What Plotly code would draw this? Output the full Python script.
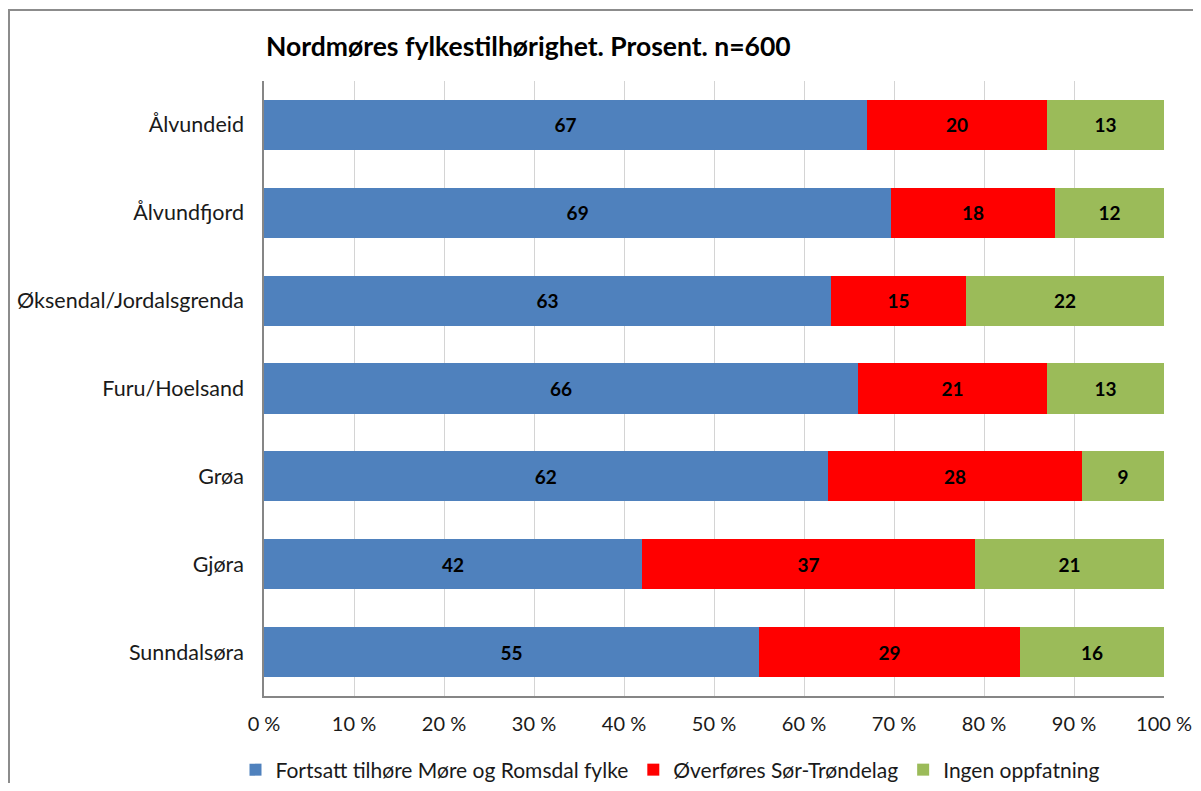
import plotly.graph_objects as go

categories = ["Ålvundeid", "Ålvundfjord", "Øksendal/Jordalsgrenda", "Furu/Hoelsand", "Grøa", "Gjøra", "Sunndalsøra"]
fortsatt = [67, 69, 63, 66, 62, 42, 55]
overfores = [20, 18, 15, 21, 28, 37, 29]
ingen = [13, 12, 22, 13, 9, 21, 16]
series_names = ["Fortsatt tilhøre Møre og Romsdal fylke", "Øverføres Sør-Trøndelag", "Ingen oppfatning"]
colors = ["#4f81bd", "#ff0000", "#9bbb59"]
tick_vals = [0, 10, 20, 30, 40, 50, 60, 70, 80, 90, 100]
tick_text = [f"{v} %" for v in tick_vals]

FONT = "Lato, 'Open Sans', sans-serif"

fig = go.Figure()
for name, vals, col in zip(series_names, [fortsatt, overfores, ingen], colors):
    fig.add_trace(go.Bar(
        y=categories, x=vals, name=name, orientation="h",
        marker=dict(color=col, line=dict(width=0)),
        text=[str(v) for v in vals], textposition="inside",
        insidetextanchor="middle", textangle=0, constraintext="none",
        textfont=dict(family=FONT, size=19, color="black", weight="bold"),
        hoverinfo="x+y+name",
    ))

OFF = 8  # page body margin
# target plot area in page pixels
PX0, PX1, PY0, PY1 = 264, 1164, 81, 696
W, H = 1201 - 2 * OFF, 791 - 2 * OFF
L = PX0 - OFF
R = OFF + W - PX1
T = PY0 - OFF
B = OFF + H - PY1
pw, ph = PX1 - PX0, PY1 - PY0


def px_x(p):
    return (p - PX0) / pw


def px_y(p):
    return (PY1 - p) / ph


fig.update_layout(
    barmode="stack", barnorm="percent", bargap=0.43,
    width=W, height=H,
    margin=dict(l=L, r=R, t=T, b=B, pad=0, autoexpand=False),
    paper_bgcolor="white", plot_bgcolor="white",
    font=dict(family=FONT, size=20, color="#1a1a1a"),
    title=dict(text="<b>Nordmøres fylkestilhørighet. Prosent. n=600</b>",
               x=(266 - OFF) / W, xref="container", xanchor="left",
               y=1 - (47 - OFF) / H, yref="container", yanchor="middle",
               font=dict(family=FONT, size=26.5, color="black")),
    legend=dict(orientation="h", x=px_x(670), xanchor="center",
                y=px_y(770), yanchor="middle",
                font=dict(family=FONT, size=21, color="#1a1a1a"),
                traceorder="normal", itemwidth=30, tracegroupgap=0),
    xaxis=dict(range=[0, 100], tickvals=tick_vals, ticktext=tick_text,
               showgrid=True, gridcolor="#d4d4d4", gridwidth=1,
               showline=True, linecolor="#868686", linewidth=1.5,
               ticks="", ticklabelstandoff=9, zeroline=False, automargin=False,
               tickfont=dict(family=FONT, size=20, color="#1a1a1a"), fixedrange=True),
    yaxis=dict(categoryorder="array", categoryarray=categories, autorange="reversed",
               showline=True, linecolor="#868686", linewidth=1.5, automargin=False,
               ticks="", ticklabelstandoff=14, showgrid=False,
               tickfont=dict(family=FONT, size=21.5, color="#1a1a1a"), fixedrange=True),
    shapes=[dict(type="path", xref="paper", yref="paper",
                 path=f"M {px_x(9)} {px_y(800)} L {px_x(9)} {px_y(10)} L {px_x(1215)} {px_y(10)}",
                 line=dict(color="#8c8c8c", width=2), layer="above")],
)

fig.write_html("out.html")
